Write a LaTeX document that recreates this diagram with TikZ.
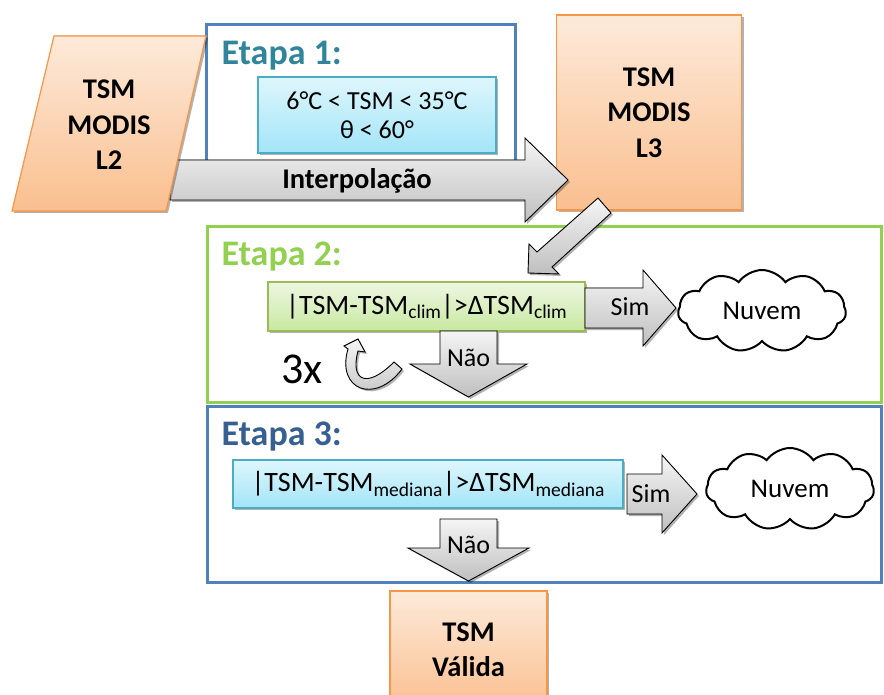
\documentclass[tikz,border=0pt]{standalone}
\usepackage{fontspec}
\setmainfont{Carlito}
\usetikzlibrary{shapes.symbols,shadows,positioning}

\definecolor{orbrd}{RGB}{247,150,70}
\definecolor{ortop}{RGB}{253,234,218}
\definecolor{orbot}{RGB}{250,191,143}
\definecolor{cybrd}{RGB}{75,172,198}
\definecolor{cytop}{RGB}{222,246,252}
\definecolor{cybot}{RGB}{163,229,248}
\definecolor{grbrd}{RGB}{155,187,89}
\definecolor{grtop}{RGB}{238,247,226}
\definecolor{grbot}{RGB}{200,232,160}
\definecolor{frblue}{RGB}{79,129,189}
\definecolor{frgreen}{RGB}{146,208,80}
\definecolor{etteal}{RGB}{49,133,155}
\definecolor{etblue}{RGB}{55,96,146}

\newcommand{\lowtext}[1]{\raisebox{-0.35ex}{\fontsize{19.5}{20}\selectfont #1}}

\tikzset{
  softshadow/.style={drop shadow={shadow xshift=2pt, shadow yshift=-2pt, opacity=.3, fill=black}},
  databox/.style={draw=orbrd, line width=1.2pt, top color=ortop, bottom color=orbot,
    align=center, font=\bfseries\fontsize{28.5}{35.5}\selectfont, softshadow},
  cytest/.style={draw=cybrd, line width=1.2pt, top color=cytop, bottom color=cybot, softshadow},
  grtest/.style={draw=grbrd, line width=1.2pt, top color=grtop, bottom color=grbot, softshadow},
  etapa/.style={anchor=west, font=\bfseries\fontsize{36}{40}\selectfont},
  frame/.style={line width=3pt},
  blockarrow/.style={draw=black, line width=0.9pt, top color=gray!8, bottom color=gray!50, softshadow},
  arrowtext/.style={font=\fontsize{26}{30}\selectfont},
  nuvem/.style={cloud, cloud puffs=11, cloud puff arc=110, aspect=2.1, draw=black, line width=2pt,
    fill=white, minimum width=168, minimum height=82, font=\fontsize{27}{30}\selectfont}
}

\begin{document}
\begin{tikzpicture}[x=1pt, y=-1pt]
\useasboundingbox (0,0) rectangle (884,695);

% Etapa 1
\draw[frame, frblue] (206,25) rectangle (515,185);
\node[etapa, text=etteal] (etapaI) at (218,56) {Etapa 1:};
\node[cytest, minimum width=238, minimum height=76, align=center,
  font=\fontsize{26}{29}\selectfont] (condI) at (377,115) {6°C < TSM < 35°C\\θ < 60°};

\node[databox, minimum width=185, minimum height=195] (ltres) at (649,112.5) {TSM\\MODIS\\L3};

\filldraw[blockarrow] (170,160) -- (525,160) -- (525,138) -- (568,180)
  -- (525,222) -- (525,200) -- (170,200) -- cycle;
\node[font=\bfseries\fontsize{28.5}{30}\selectfont] (interp) at (357,181) {Interpolação};

\filldraw[draw=orbrd, line width=1.2pt, top color=ortop, bottom color=orbot, softshadow]
  (54,36) -- (206,36) -- (166,211) -- (12,211) -- cycle;
\node[align=center, font=\bfseries\fontsize{28.5}{35.5}\selectfont] (ldois) at (109,125) {TSM\\MODIS\\L2};

% Etapa 2 e 3
\draw[frame, frgreen] (207,227) rectangle (881,402);
\draw[frame, frblue] (207,406) rectangle (881,582);
\node[etapa, text=frgreen] (etapaII) at (218,257) {Etapa 2:};
\node[etapa, text=etblue] (etapaIII) at (218,437) {Etapa 3:};

\filldraw[blockarrow] (598,198) -- (611,213) -- (552,267) -- (559,274)
  -- (528,273) -- (529,244) -- (537,252) -- cycle;

\node[grtest, minimum width=317, minimum height=49, font=\fontsize{28}{30}\selectfont] (condII)
  at (426.5,306.5) {|TSM-TSM\lowtext{clim}|>ΔTSM\lowtext{clim}};
\node[cytest, minimum width=390, minimum height=48, font=\fontsize{28}{30}\selectfont] (condIII)
  at (428,484) {|TSM-TSM\lowtext{mediana}|>ΔTSM\lowtext{mediana}};

% sim
\filldraw[blockarrow] (585,288) -- (643,288) -- (643,270) -- (676,308)
  -- (643,346) -- (643,328) -- (585,328) -- cycle;
\node[arrowtext] (simII) at (630,307) {Sim};
\node[nuvem] (nuvemII) at (762,311) {Nuvem};

\filldraw[blockarrow] (627,474) -- (662,474) -- (662,455) -- (697,494)
  -- (662,533) -- (662,514) -- (627,514) -- cycle;
\node[arrowtext] (simIII) at (651,494) {Sim};
\node[nuvem] (nuvemIII) at (790,489) {Nuvem};

% nao
\filldraw[blockarrow] (440,331) -- (497,331) -- (497,364) -- (527,364)
  -- (468.5,397) -- (410,364) -- (440,364) -- cycle;
\node[arrowtext] (naoII) at (468.5,358) {Não};

\filldraw[blockarrow] (440,519) -- (497,519) -- (497,548) -- (529,548)
  -- (468.5,581) -- (408,548) -- (440,548) -- cycle;
\node[arrowtext] (naoIII) at (468.5,545) {Não};

% repeticao
\node[font=\fontsize{44}{46}\selectfont] (vezes) at (302,369) {3x};
\filldraw[blockarrow] (348,349) .. controls (336,390) and (375,405) .. (402,369)
  -- (394,362) .. controls (366,390) and (350,380) .. (358,351)
  -- (365,352) -- (358,339) -- (344,346) -- cycle;

\node[databox, minimum width=157, minimum height=118] (valida) at (468.5,650) {TSM\\Válida};

\end{tikzpicture}
\end{document}
